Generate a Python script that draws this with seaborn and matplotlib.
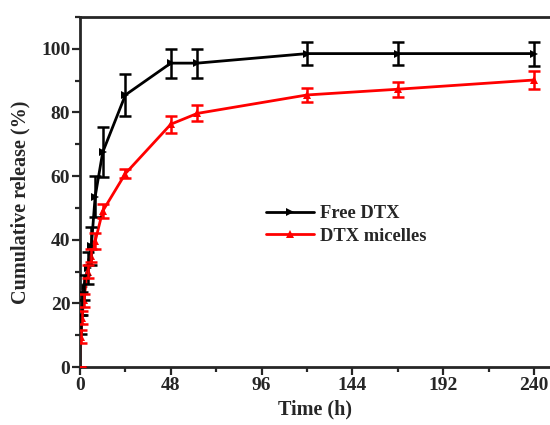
import numpy as np
import pandas as pd
import matplotlib
matplotlib.use("Agg")
import matplotlib.pyplot as plt
from matplotlib.ticker import MultipleLocator
import seaborn as sns

# Sampling times (h)
time_h = [0, 0.5, 1, 2, 4, 6, 8, 12, 24, 48, 62, 120, 168, 240]

# Cumulative release (%) and standard deviations
free_dtx = [0, 13.5, 20, 25, 31, 38, 53.5, 67.5, 85.5, 95.5, 95.5, 98.5, 98.5, 98.5]
free_dtx_sd = [0, 3, 3.5, 4, 5, 6, 6.5, 7.8, 6.5, 4.6, 4.6, 3.7, 3.7, 3.8]

micelles = [0, 9.5, 15.5, 21, 30, 35, 39.5, 49, 60.8, 76.3, 79.7, 85.5, 87.3, 90.2]
micelles_sd = [0, 2, 2, 2, 2, 2, 2.5, 2.2, 1.5, 2.6, 2.5, 2.2, 2.4, 2.8]

series_names = ["Free DTX", "DTX micelles"]
colors = {"Free DTX": "black", "DTX micelles": "red"}

df = pd.DataFrame({
    "Time (h)": time_h * 2,
    "release": free_dtx + micelles,
    "sd": free_dtx_sd + micelles_sd,
    "series": [series_names[0]] * len(time_h) + [series_names[1]] * len(time_h),
})

sns.set_style("ticks")
plt.rcParams["font.family"] = ["Liberation Serif", "DejaVu Serif"]
plt.rcParams["font.weight"] = "bold"

fig = plt.figure(figsize=(5.5, 4.25), dpi=100)
ax = fig.add_axes([80 / 550, 58 / 425, 470 / 550, 350 / 425])

sns.lineplot(
    data=df, x="Time (h)", y="release", hue="series", style="series",
    palette=colors, markers={"Free DTX": ">", "DTX micelles": "^"},
    dashes=False, markersize=6, linewidth=2, markeredgewidth=0,
    ax=ax, errorbar=None,
)

for name in series_names:
    sub = df[df["series"] == name]
    ax.errorbar(sub["Time (h)"], sub["release"], yerr=sub["sd"], fmt="none",
                ecolor=colors[name], elinewidth=1.8, capsize=4, capthick=1.8,
                zorder=3)

ax.set_xlim(0, 248.4)
ax.set_ylim(0, 110)
ax.xaxis.set_major_locator(MultipleLocator(48))
ax.xaxis.set_minor_locator(MultipleLocator(24))
ax.yaxis.set_major_locator(MultipleLocator(20))
ax.yaxis.set_minor_locator(MultipleLocator(10))
ax.tick_params(which="major", direction="out", length=6, width=1.6,
               labelsize=14, pad=1)
ax.tick_params(which="minor", direction="out", length=3.5, width=1.6)
for lab in ax.get_xticklabels() + ax.get_yticklabels():
    lab.set_fontweight("bold")

for side in ["left", "bottom", "top"]:
    ax.spines[side].set_linewidth(2)
ax.spines["right"].set_visible(False)

ax.set_xlabel("Time (h)", fontsize=14.5, fontweight="bold", labelpad=4)
ax.set_ylabel("Cumulative release (%)", fontsize=14.5, fontweight="bold")
ax.yaxis.set_label_coords(-0.106, 0.47)

handles, labels = ax.get_legend_handles_labels()
ax.legend(handles, labels, loc="upper left", bbox_to_anchor=(0.36, 0.51),
          frameon=False, prop={"size": 13.3, "weight": "bold"},
          handlelength=2.6, handletextpad=0.35, labelspacing=0.3)

fig.savefig("out.png", dpi=100)
